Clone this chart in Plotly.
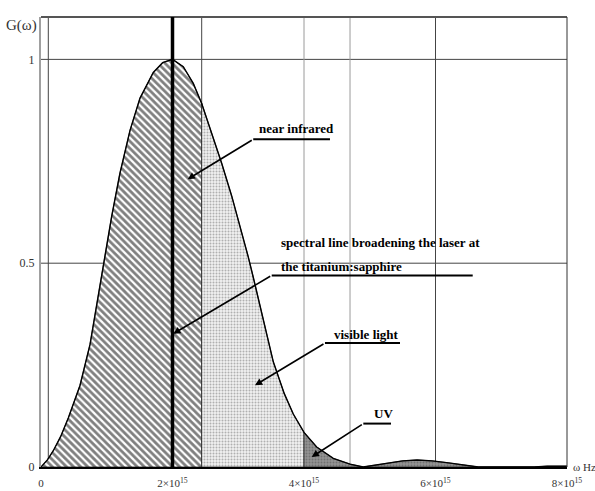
import plotly.graph_objects as go

# Spectral profile G(omega); omega in units of 10^15 Hz
omega = [0.0, 0.035, 0.1, 0.187, 0.3, 0.415, 0.593, 0.745, 0.847, 0.948, 1.075, 1.2,
         1.354, 1.506, 1.708, 1.85, 2.0, 2.164, 2.316, 2.444, 2.596, 2.748, 2.9, 3.027,
         3.153, 3.229, 3.281, 3.4, 3.533, 3.7, 3.837, 4.0, 4.193, 4.446, 4.7, 4.9,
         5.1, 5.3, 5.5, 5.72, 5.95, 6.2, 6.45, 6.65, 7.5, 7.7, 8.0]
G = [0.0, 0.006, 0.018, 0.04, 0.075, 0.12, 0.2, 0.3, 0.395, 0.49, 0.615, 0.72,
     0.826, 0.905, 0.968, 0.992, 1.0, 0.982, 0.941, 0.892, 0.818, 0.745, 0.665, 0.593,
     0.515, 0.465, 0.43, 0.345, 0.258, 0.18, 0.13, 0.085, 0.049, 0.021, 0.007, 0.0,
     0.005, 0.011, 0.015, 0.017, 0.015, 0.010, 0.004, 0.0, 0.0, 0.002, 0.002]

# Spectral bands (edges in 10^15 Hz)
band_edges = [0.0, 2.444, 4.0, 8.0]
band_names = ["near infrared", "visible light", "UV"]

laser_center = 2.0                      # laser line position
marker_lines = [0.111, 2.444, 4.0, 4.7, 6.0]
marker_colors = ["#444", "#444", "#9a9a9a", "#9a9a9a", "#444"]
grid_G = [0.5, 1.0]

x_ticks = [0, 2, 4, 6, 8]
x_ticktext = ["0", "2×10<sup>15</sup>", "4×10<sup>15</sup>", "6×10<sup>15</sup>", "8×10<sup>15</sup>"]
y_ticks = [0, 0.5, 1]
y_ticktext = ["0", "0.5", "1"]

SERIF = "Liberation Serif, Times New Roman, serif"

fills = {
    "near infrared": dict(shape="\\", size=5, solidity=0.55, fgcolor="black", bgcolor="white"),
    "visible light": dict(shape=".", size=3, solidity=0.35, fgcolor="#707070", bgcolor="#f0f0f0"),
    "UV": dict(shape=".", size=3, solidity=0.35, fgcolor="#505050", bgcolor="#939393"),
}


def band_polygon(lo, hi):
    xs = [w for w in omega if lo <= w <= hi]
    ys = [g for w, g in zip(omega, G) if lo <= w <= hi]
    return xs + [hi, lo, lo], ys + [0.0, 0.0, ys[0]]


fig = go.Figure()

for name, lo, hi in zip(band_names, band_edges[:-1], band_edges[1:]):
    bx, by = band_polygon(lo, hi)
    fig.add_trace(go.Scatter(
        x=bx, y=by, mode="lines", fill="toself",
        fillpattern=fills[name], fillcolor=fills[name]["bgcolor"],
        line=dict(color="#222", width=0.8), hoverinfo="skip", name=name,
    ))

fig.add_trace(go.Scatter(x=omega, y=G, mode="lines",
                         line=dict(color="black", width=1.4), name="G(ω)"))

shapes = []
for g in grid_G:
    shapes.append(dict(type="line", xref="paper", yref="y", x0=0, x1=1, y0=g, y1=g,
                       line=dict(color="#444", width=1), layer="below"))
for xv, c in zip(marker_lines, marker_colors):
    shapes.append(dict(type="line", xref="x", yref="paper", x0=xv, x1=xv, y0=0, y1=1,
                       line=dict(color=c, width=1), layer="below"))
# frame: top and right edges
shapes.append(dict(type="line", xref="paper", yref="paper", x0=0, x1=1, y0=1, y1=1,
                   line=dict(color="#555", width=2)))
shapes.append(dict(type="line", xref="paper", yref="paper", x0=1, x1=1, y0=0, y1=1,
                   line=dict(color="#333", width=1)))
# laser line
shapes.append(dict(type="line", xref="x", yref="paper", x0=laser_center, x1=laser_center,
                   y0=0, y1=1, line=dict(color="black", width=3.5)))

# labelled callouts: (text lines, text x, text y's, underline x0, x1, y, arrow head x, y)
callouts = [
    (["near infrared"], 3.281, [0.830], 3.228, 4.395, 0.804, 2.231, 0.706),
    (["spectral line broadening the laser at", "the titanium:sapphire"], 3.62, [0.550, 0.491],
     3.509, 6.566, 0.470, 2.012, 0.327),
    (["visible light"], 4.421, [0.325], 4.319, 5.46, 0.304, 3.255, 0.2005),
    (["UV"], 5.03, [0.131], 4.902, 5.323, 0.1065, 4.117, 0.0245),
]

annotations = []
for lines, tx, tys, ux0, ux1, uy, hx, hy in callouts:
    for txt, ty in zip(lines, tys):
        annotations.append(dict(x=tx, y=ty, xref="x", yref="y", text="<b>" + txt + "</b>",
                                showarrow=False, xanchor="left", yanchor="middle",
                                font=dict(family=SERIF, size=13, color="black")))
    shapes.append(dict(type="line", xref="x", yref="y", x0=ux0, x1=ux1, y0=uy, y1=uy,
                       line=dict(color="black", width=2)))
    annotations.append(dict(x=hx, y=hy, ax=ux0, ay=uy, xref="x", yref="y",
                            axref="x", ayref="y", text="", showarrow=True,
                            arrowhead=2, arrowsize=0.9, arrowwidth=1.6, arrowcolor="black"))

# axis titles
annotations.append(dict(x=-0.037, y=0.982, xref="paper", yref="paper", text="G(ω)",
                        showarrow=False, xanchor="center", yanchor="middle",
                        font=dict(family=SERIF, size=15, color="#333")))
annotations.append(dict(x=1.0, y=0.0, xref="paper", yref="paper", text="ω Hz",
                        showarrow=False, xanchor="left", yanchor="middle", xshift=4,
                        font=dict(family=SERIF, size=11, color="#333")))

fig.update_layout(
    width=595, height=491,
    margin=dict(l=41, r=28, t=17, b=24),
    paper_bgcolor="white", plot_bgcolor="white",
    showlegend=False,
    shapes=shapes, annotations=annotations,
    xaxis=dict(range=[0, 8], tickvals=x_ticks, ticktext=x_ticktext, showgrid=False,
               zeroline=False, showline=True, linecolor="black", linewidth=2,
               ticks="", ticklabelstandoff=5, automargin=False,
               tickfont=dict(family=SERIF, size=11, color="#333")),
    yaxis=dict(range=[0, 1.104], tickvals=y_ticks, ticktext=y_ticktext, showgrid=False,
               zeroline=False, showline=True, linecolor="#a0a0a0", linewidth=2,
               ticks="", ticklabelstandoff=2, automargin=False,
               tickfont=dict(family=SERIF, size=12, color="#333")),
)

fig.write_html("out.html")
